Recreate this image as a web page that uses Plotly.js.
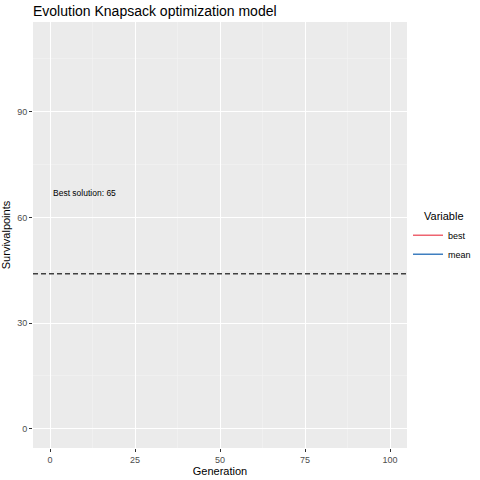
<!DOCTYPE html>
<html>
<head>
<meta charset="utf-8">
<script src="https://cdn.plot.ly/plotly-3.0.1.min.js"></script>
<style>
  html, body { margin: 0; padding: 0; background: #fff; }
  #plt { width: 480px; height: 480px; }
</style>
</head>
<body>
<div id="plt"></div>
<script>
// the run recorded no points, so both series are empty
var generation = [];
var best = [];
var mean = [];
var seriesNames = ['best', 'mean'];
var seriesColors = ['#EE6470', '#3F7FC0'];
var legendTitle = 'Variable';

var threshold = 44;
var label = {x: 10, y: 67, text: 'Best solution: 65'};

var xTicks = [0, 25, 50, 75, 100];
var yTicks = [0, 30, 60, 90];

// plotly drops empty traces from the legend, so pad with a gap value
function orGap(arr){
    return arr.length ? arr : [null];
}

function plot(){
    let gd = document.getElementById('plt');

    let d = [best, mean].map((ys, i) => ({
        type: 'scatter',
        mode: 'lines',
        name: seriesNames[i],
        showlegend: true,
        x: orGap(generation),
        y: orGap(ys),
        line: {color: seriesColors[i], width: 1.6}
    }));

    let axisStyle = {
        showgrid: true,
        gridcolor: '#ffffff',
        gridwidth: 1,
        zeroline: false,
        showline: false,
        ticks: 'outside',
        ticklen: 3,
        tickwidth: 1,
        tickcolor: '#333333',
        tickfont: {family: 'Liberation Sans, Arial, sans-serif', size: 9, color: '#4d4d4d'},
        fixedrange: true
    };

    let l = {
        width: 480,
        height: 480,
        margin: {l: 33, r: 73, t: 22, b: 32},
        paper_bgcolor: '#ffffff',
        plot_bgcolor: '#ebebeb',
        font: {family: 'Liberation Sans, Arial, sans-serif', color: '#000000'},
        title: {
            text: 'Evolution Knapsack optimization model',
            font: {size: 14, color: '#000000'},
            x: 0, xref: 'paper', xanchor: 'left',
            y: 11, yref: 'container', yanchor: 'middle'
        },
        xaxis: Object.assign({}, axisStyle, {
            range: [-5, 105],
            tickvals: xTicks,
            ticktext: xTicks.map(String),
            minor: {tickvals: [12.5, 37.5, 62.5, 87.5], showgrid: true, gridcolor: '#f4f4f4', gridwidth: 0.6, ticks: ''},
            title: {text: 'Generation', font: {size: 11, color: '#000000'}, standoff: 1}
        }),
        yaxis: Object.assign({}, axisStyle, {
            range: [-5.5, 115.5],
            tickvals: yTicks,
            ticktext: yTicks.map(String),
            minor: {tickvals: [15, 45, 75, 105], showgrid: true, gridcolor: '#f4f4f4', gridwidth: 0.6, ticks: ''},
            title: {text: 'Survivalpoints', font: {size: 11, color: '#000000'}, standoff: 4}
        }),
        showlegend: true,
        legend: {
            xref: 'container', x: 0.85, xanchor: 'left',
            yref: 'container', y: 0.54, yanchor: 'top',
            bgcolor: 'rgba(0,0,0,0)',
            font: {size: 9, color: '#000000'},
            itemwidth: 30,
            tracegroupgap: 0
        },
        shapes: [{
            type: 'line',
            xref: 'paper', x0: 0, x1: 1,
            yref: 'y', y0: threshold, y1: threshold,
            line: {color: '#404040', width: 1.5, dash: '5px,3px'}
        }],
        annotations: [{
            x: label.x, y: label.y, xref: 'x', yref: 'y',
            text: label.text,
            showarrow: false,
            font: {size: 8.5, color: '#000000'}
        }, {
            // legend title, placed on its own so the keys can sit further left
            x: 1.04, y: 0.545, xref: 'paper', yref: 'paper',
            xanchor: 'left', yanchor: 'middle',
            text: legendTitle,
            showarrow: false,
            font: {size: 11, color: '#000000'}
        }]
    };
    let c = {
        displayModeBar: false,
        staticPlot: true
    };

    Plotly.newPlot(gd, d, l, c);
}

plot();
</script>
</body>
</html>
